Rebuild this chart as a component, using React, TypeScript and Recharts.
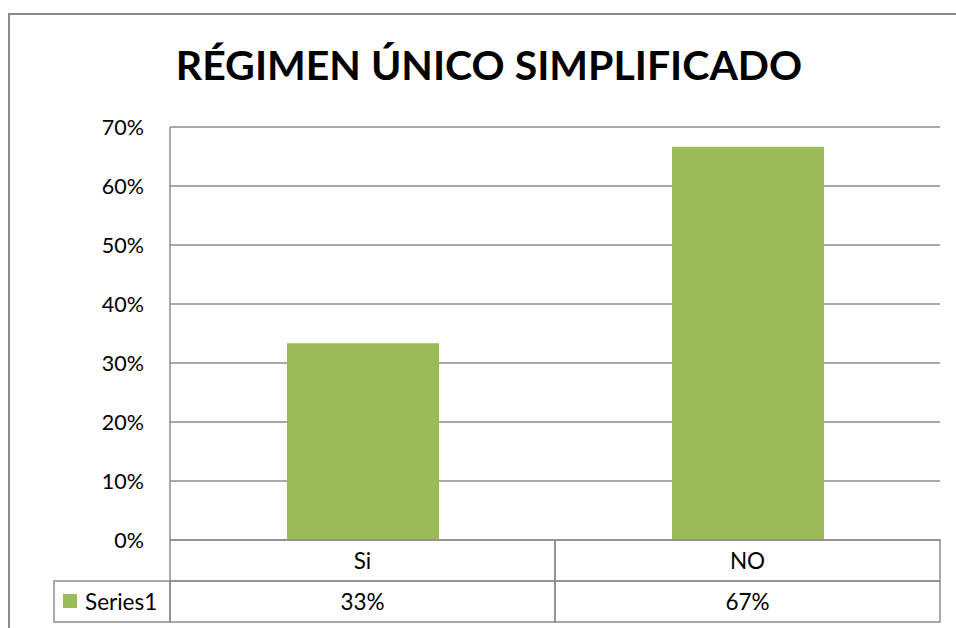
import { BarChart, Bar, XAxis, YAxis, CartesianGrid } from 'recharts';

const categories = ['Si', 'NO'];
const values = [0.3333, 0.6667];
const valueLabels = ['33%', '67%'];
const yTicks = [0, 0.1, 0.2, 0.3, 0.4, 0.5, 0.6, 0.7];
const seriesName = 'Series1';
const title = 'RÉGIMEN ÚNICO SIMPLIFICADO';

const W = 956;
const H = 628;
const PLOT_LEFT = 170;
const PLOT_RIGHT = 940;
const PLOT_TOP = 127;
const PLOT_BOTTOM = 540;
const ROW_H = 41;
const LEGEND_W = 116;
const BAND = (PLOT_RIGHT - PLOT_LEFT) / categories.length;
const GRID = '#8c8c8c';
const GREEN = '#9bbb59';
const FONT = 'Lato, "Open Sans", sans-serif';

const data = categories.map((name, i) => ({ name, value: values[i] }));

function TableTick(props: any) {
  const { x, payload } = props;
  const i = payload.index;
  const y = PLOT_BOTTOM;
  const left = x - BAND / 2;
  return (
    <g>
      <rect x={left} y={y} width={BAND} height={ROW_H} fill="none" stroke={GRID} strokeWidth={1.5} />
      <rect x={left} y={y + ROW_H} width={BAND} height={ROW_H} fill="none" stroke={GRID} strokeWidth={1.5} />
      <text x={x} y={y + ROW_H / 2} dy="0.36em" textAnchor="middle" fontSize={22.5} fontFamily={FONT} fill="#000">
        {categories[i]}
      </text>
      <text x={x} y={y + ROW_H * 1.5} dy="0.36em" textAnchor="middle" fontSize={22.5} fontFamily={FONT} fill="#000">
        {valueLabels[i]}
      </text>
      {i === 0 && (
        <g>
          <rect x={left - LEGEND_W} y={y + ROW_H} width={LEGEND_W} height={ROW_H} fill="none" stroke={GRID} strokeWidth={1.5} />
          <rect x={left - LEGEND_W + 9} y={y + ROW_H + 13} width={14} height={14} fill={GREEN} />
          <text x={left - LEGEND_W + 31} y={y + ROW_H * 1.5} dy="0.36em" fontSize={22.5} fontFamily={FONT} fill="#000">
            {seriesName}
          </text>
        </g>
      )}
    </g>
  );
}

export default function App() {
  return (
    <div style={{ position: 'absolute', left: 0, top: 0, width: W, height: H, overflow: 'hidden', background: '#fff' }}>
      <div
        style={{
          position: 'absolute',
          left: 8,
          top: 13,
          width: 1000,
          height: 700,
          border: '2px solid #8c8c8c',
        }}
      />
      <div style={{ position: 'absolute', left: 0, top: 0 }}>
        <BarChart
          width={W}
          height={H}
          data={data}
          margin={{ top: PLOT_TOP, right: W - PLOT_RIGHT, bottom: 0, left: 0 }}
        >
          <text x={489} y={80} textAnchor="middle" fontSize={41} fontWeight={700} fontFamily={FONT} fill="#000">
            {title}
          </text>
          <CartesianGrid vertical={false} stroke={GRID} strokeWidth={1.5} />
          <YAxis
            width={PLOT_LEFT}
            domain={[0, 0.7]}
            ticks={yTicks}
            tickFormatter={(v: number) => `${Math.round(v * 100)}%`}
            tickLine={false}
            tickSize={0}
            tickMargin={26}
            axisLine={{ stroke: GRID, strokeWidth: 1.5 }}
            tick={{ fontSize: 21.5, fontFamily: FONT, fill: '#000' }}
          />
          <XAxis
            dataKey="name"
            height={H - PLOT_BOTTOM}
            tickLine={false}
            tickSize={0}
            tickMargin={0}
            axisLine={false}
            tick={<TableTick />}
            interval={0}
          />
          <Bar dataKey="value" fill={GREEN} barSize={152} isAnimationActive={false} />
        </BarChart>
      </div>
    </div>
  );
}
